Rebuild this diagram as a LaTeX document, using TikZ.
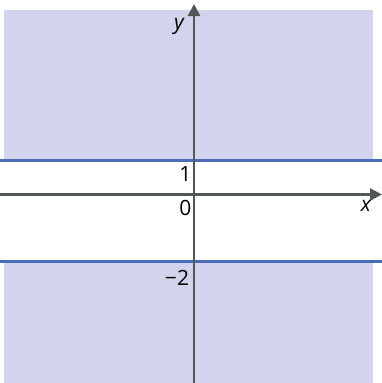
\documentclass[tikz,border=0pt]{standalone}
\usepackage{fontspec}
\setmainfont{Open Sans}
\usetikzlibrary{arrows.meta}
\definecolor{regfill}{RGB}{209,212,236}
\definecolor{bline}{RGB}{74,108,180}
\definecolor{axisc}{RGB}{80,88,88}
\tikzset{
  axisline/.style={draw=axisc, line width=2.8pt, -{Triangle[length=12pt,width=12pt]}},
  boundline/.style={draw=bline, line width=3pt},
  lbl/.style={font=\fontsize{21}{21}\selectfont, text=black, inner sep=0pt}
}
\begin{document}
\begin{tikzpicture}[x=1pt,y=-1pt]
\useasboundingbox (0,0) rectangle (382,383);
\fill[regfill] (4,10) rectangle (373,161);
\fill[regfill] (4,261) rectangle (373,383);
\coordinate (L1) at (0,160.5);
\coordinate (R1) at (382,160.5);
\coordinate (L2) at (0,261.5);
\coordinate (R2) at (382,261.5);
\draw[boundline] (L1) -- (R1);
\draw[boundline] (L2) -- (R2);
\coordinate (xs) at (0,194.5);
\coordinate (xe) at (382,194.5);
\coordinate (ys) at (194,383);
\coordinate (ye) at (194,4);
\draw[axisline] (xs) -- (xe);
\draw[axisline] (ys) -- (ye);
\node[lbl] (ylab) at (179,26) {\itshape y};
\node[lbl] (xlab) at (366,206) {\itshape x};
\node[lbl] (one) at (185.5,174) {1};
\node[lbl] (zero) at (185.5,207.5) {0};
\node[lbl] (mtwo) at (177,277.5) {−2};
\end{tikzpicture}
\end{document}
